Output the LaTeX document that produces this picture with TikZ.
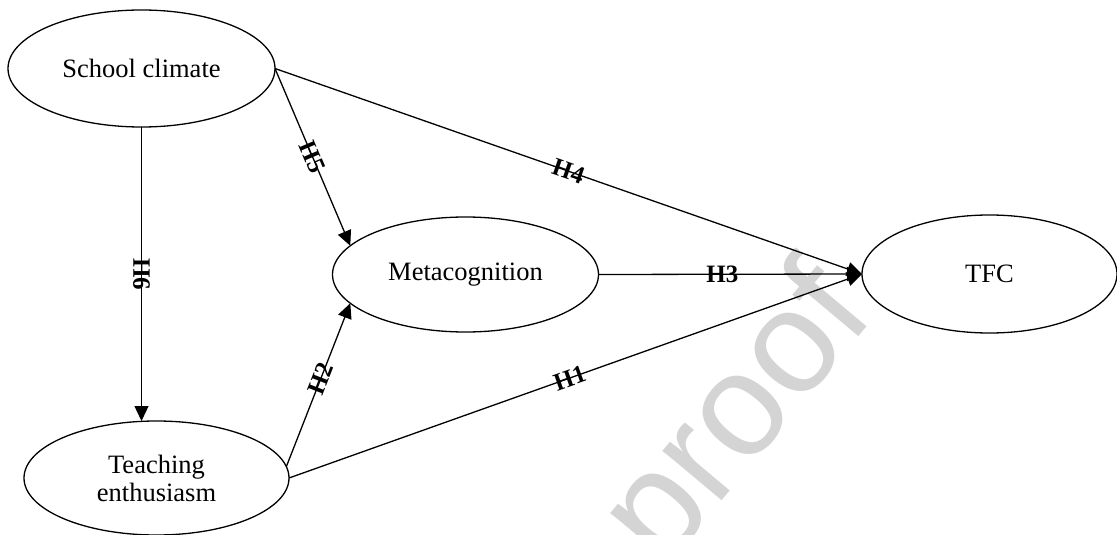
\documentclass[tikz,border=0pt]{standalone}
\usepackage{fontspec}
\setmainfont{Liberation Serif}
\newfontfamily\wmfont{Liberation Sans}
\usetikzlibrary{shapes.geometric,arrows.meta}

\tikzset{
  construct/.style={draw, ellipse, line width=1.3pt, inner sep=0pt, outer sep=0pt,
    align=center, font=\fontsize{26.5}{28}\selectfont},
  path/.style={line width=1.3pt, -{Triangle[length=15pt,width=14pt]}},
  hyp/.style={sloped, inner sep=0pt, font=\fontsize{25}{25}\selectfont\bfseries},
  stamp/.style={text=black!17, font=\wmfont\fontsize{146}{146}\selectfont, inner sep=0pt}
}

\begin{document}
\begin{tikzpicture}[x=1pt, y=-1pt]
  \useasboundingbox (0,0) rectangle (1117,535);
  \fill[white] (0,0) rectangle (1117,535);

  % faint stamp in the lower right
  \node[stamp, rotate=50, anchor=base] (stampword) at (770,443) {proof};

  % constructs
  \node[construct, minimum width=267pt, minimum height=117pt] (sc)   at (141.5,68.5) {School climate};
  \node[construct, minimum width=266pt, minimum height=115pt] (meta) at (465.5,274.5) {Metacognition};
  \node[construct, minimum width=255pt, minimum height=118pt] (tfc)  at (989.5,274) {TFC};
  \node[construct, minimum width=265pt, minimum height=114pt] (te)   at (156.5,478) {Teaching\\enthusiasm};

  % hypothesised paths
  \draw[path] (sc.east) -- node[hyp, pos=0.5] {H4} (tfc.west);
  \draw[path] (sc.east) -- node[hyp, pos=0.5] {H5} (meta.166);
  \draw[path] (sc.south) -- node[hyp, pos=0.5] {H6} (sc.south |- te.north);
  \draw[path] (te.5) -- node[hyp, pos=0.54] {H2} (meta.194);
  \draw[path] (te.east) -- node[hyp, pos=0.49] {H1} (tfc.west);
  \draw[path] (meta.east) -- node[hyp, pos=0.47] {H3} (tfc.west);
\end{tikzpicture}
\end{document}
